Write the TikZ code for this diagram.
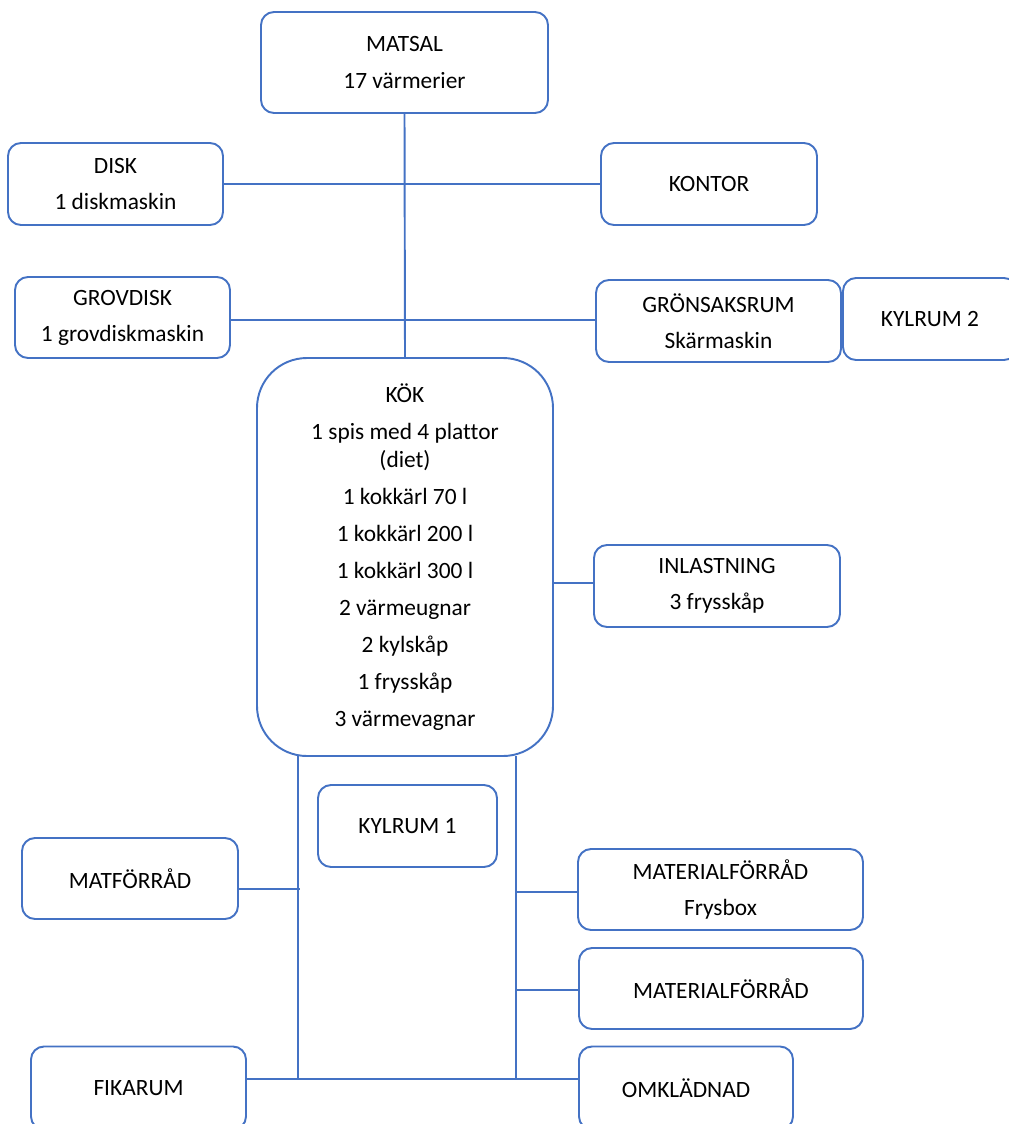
\documentclass[tikz,border=0pt]{standalone}
\usepackage{fontspec}
\setmainfont{Carlito}[Ligatures=NoCommon]
\definecolor{boxblue}{HTML}{4472C4}
\tikzset{
  room/.style={draw=boxblue, line width=1.1pt, rounded corners=2.6mm, align=center,
    font=\fontsize{13.3}{16}\selectfont, inner sep=0pt, outer sep=0pt, fill=white},
  link/.style={draw=boxblue, line width=1.1pt}
}
\begin{document}
\begin{tikzpicture}[x=0.2mm,y=-0.2mm]
\useasboundingbox (0,0) rectangle (1008,1124);

% rooms
\node[room, minimum width=57.4mm, minimum height=20.2mm] (matsal) at (404.5,62.5) {MATSAL\\[4.5pt]17 värmerier};
\node[room, minimum width=43mm, minimum height=16.4mm] (disk) at (115.5,184) {DISK\\[4.5pt]1 diskmaskin};
\node[room, minimum width=43.2mm, minimum height=16.4mm] (kontor) at (709,184) {KONTOR};
\node[room, minimum width=43mm, minimum height=16.2mm] (grovdisk) at (122.5,317.5) {GROVDISK\\[4.5pt]1 grovdiskmaskin};
\node[room, minimum width=49mm, minimum height=16.4mm] (gronsak) at (718.5,321) {GRÖNSAKSRUM\\[4.5pt]Skärmaskin};
\node[room, minimum width=34.8mm, minimum height=16.4mm] (kylrum2) at (930,319) {KYLRUM 2};
\node[room, rounded corners=10mm, minimum width=59.2mm, minimum height=79.6mm] (kok) at (405,557)
  {KÖK\\[5pt]1 spis med 4 plattor\\(diet)\\[5pt]1 kokkärl 70 l\\[5pt]1 kokkärl 200 l\\[5pt]1 kokkärl 300 l\\[5pt]2 värmeugnar\\[5pt]2 kylskåp\\[5pt]1 frysskåp\\[5pt]3 värmevagnar};
\node[room, minimum width=49.2mm, minimum height=16.4mm] (inlastning) at (717,586) {INLASTNING\\[4.5pt]3 frysskåp};
\node[room, minimum width=35.8mm, minimum height=16.4mm] (kylrum1) at (407.5,826) {KYLRUM 1};
\node[room, minimum width=43.2mm, minimum height=16.2mm] (matforrad) at (130,878.5) {MATFÖRRÅD};
\node[room, minimum width=57mm, minimum height=16.2mm] (frysbox) at (720.5,889.5) {MATERIALFÖRRÅD\\[4.5pt]Frysbox};
\node[room, minimum width=56.8mm, minimum height=16.2mm] (material) at (721,988.5) {MATERIALFÖRRÅD};
\node[room, minimum width=43mm, minimum height=16.6mm] (fikarum) at (138.5,1088) {FIKARUM};
\node[room, minimum width=42.8mm, minimum height=16.6mm] (omkladnad) at (686,1088) {OMKLÄDNAD};

% corridor points
\coordinate (lt) at (298,756);
\coordinate (lb) at (298,1079);
\coordinate (rt) at (516,756);
\coordinate (rb) at (516,1079);
\coordinate (jgrov) at (230,320);
\coordinate (jmat) at (300,889);
\coordinate (jfrys) at (516,892);
\coordinate (jmtrl) at (516,990);
\coordinate (jin) at (553,583);

% connections
\draw[link] (matsal.south) -- (kok.north);
\draw[link] (disk.east) -- (kontor.west);
\draw[link] (jgrov -| grovdisk.east) -- (jgrov -| gronsak.west);
\draw[link] (jin) -- (jin -| inlastning.west);
\draw[link] (lt) -- (lb);
\draw[link] (rt) -- (rb);
\draw[link] (jmat -| matforrad.east) -- (jmat);
\draw[link] (jfrys) -- (jfrys -| frysbox.west);
\draw[link] (jmtrl) -- (jmtrl -| material.west);
\draw[link] (lb -| fikarum.east) -- (rb -| omkladnad.west);

\end{tikzpicture}
\end{document}
